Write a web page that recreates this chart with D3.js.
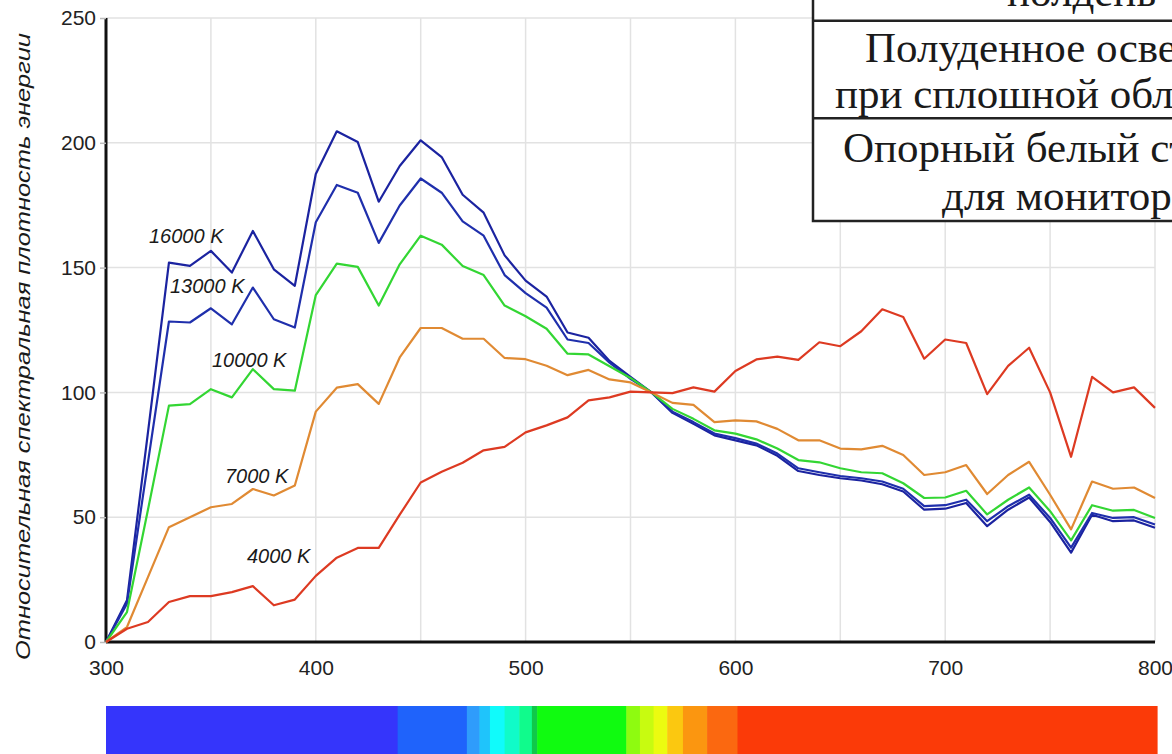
<!DOCTYPE html>
<html lang="ru">
<head>
<meta charset="UTF-8">
<title>Спектральная плотность энергии</title>
<script src="https://d3js.org/d3.v7.min.js"></script>
<style>
  body { margin: 0; background: #fff; }
  svg { display: block; }
  .tick-label { font-family: "Liberation Sans", Arial, sans-serif; font-size: 21px; fill: #222; }
  .curve-label { font-family: "Liberation Sans", Arial, sans-serif; font-size: 20px; font-style: italic; fill: #1a1a1a; }
  .box-text { font-family: "Liberation Serif", "Times New Roman", serif; font-size: 43px; fill: #1a1a1a; }
</style>
</head>
<body>
<svg id="chart" width="1172" height="754"></svg>
<script>
// wavelengths, nm
const wavelengths = [300, 310, 320, 330, 340, 350, 360, 370, 380, 390,
  400, 410, 420, 430, 440, 450, 460, 470, 480, 490,
  500, 510, 520, 530, 540, 550, 560, 570, 580, 590,
  600, 610, 620, 630, 640, 650, 660, 670, 680, 690,
  700, 710, 720, 730, 740, 750, 760, 770, 780, 790, 800];

// relative spectral power, one array per colour temperature
const k16000 = [0, 16.7, 84, 152, 150.7, 156.7, 148, 164.7, 149.3, 142.7,
  187.5, 204.6, 200.3, 176.4, 190.7, 201, 194.3, 179.2, 172, 154.9,
  144.8, 138.4, 124, 121.9, 112.6, 106.2, 100, 91.8, 87.4, 82.8,
  80.8, 78.8, 74.6, 68.5, 66.9, 65.6, 64.7, 63.2, 60.3, 53,
  53.4, 55.7, 46.4, 53, 57.9, 48.1, 35.8, 51, 48.4, 48.7, 45.8];
const k13000 = [0, 15.3, 72, 128.4, 128, 133.7, 127.3, 142, 129.3, 126,
  168.2, 183.1, 180, 159.9, 174.9, 185.7, 180, 168.5, 162.8, 147,
  139.8, 134, 121.2, 119.8, 111.9, 105.4, 100, 92.3, 88.1, 83.5,
  81.7, 79.5, 75.5, 69.6, 68, 66.5, 65.6, 64.3, 61.4, 54.4,
  54.8, 57, 48.4, 54.4, 59, 49.7, 37.8, 51.7, 49.7, 50, 47.1];
const k10000 = [0, 12, 53, 94.7, 95.3, 101.3, 98, 109.3, 101.3, 100.7,
  139, 151.6, 150.3, 134.8, 151.3, 162.8, 159.2, 150.6, 147, 134.8,
  130.5, 125.5, 115.5, 115.2, 110.5, 105.8, 100, 93.4, 89.4, 84.8,
  83.5, 81.2, 77.5, 72.9, 72, 69.6, 68, 67.6, 63.6, 57.7,
  57.9, 60.6, 51.1, 57, 61.9, 52.4, 40.7, 54.8, 52.6, 52.9, 49.7];
const k7000 = [0, 6, 26, 46, 50, 54, 55.3, 61.3, 58.7, 62.7,
  92.3, 101.9, 103.3, 95.4, 114, 125.8, 125.8, 121.5, 121.5, 113.8,
  113.3, 110.7, 106.9, 109, 105.2, 104, 100, 95.8, 95, 88.1,
  88.8, 88.4, 85.4, 80.8, 80.8, 77.5, 77.2, 78.6, 74.9, 66.9,
  68, 70.9, 59.3, 66.9, 72.2, 59, 45.1, 64.3, 61.4, 61.9, 57.7];
const k4000 = [0, 5.3, 8, 16, 18.4, 18.4, 20, 22.4, 14.7, 17,
  26.5, 33.8, 37.7, 37.7, 51, 63.9, 68.2, 71.8, 76.8, 78.2,
  84, 86.8, 90, 96.8, 98, 100.3, 100, 99.7, 102, 100.3,
  108.6, 113.2, 114.3, 113, 120.1, 118.5, 124.5, 133.3, 130.2, 113.5,
  121.2, 119.8, 99.3, 110.6, 117.9, 100, 74.2, 106.2, 100, 102, 93.8];

const seriesNames = ["16000 K", "13000 K", "10000 K", "7000 K", "4000 K"];
const seriesValues = [k16000, k13000, k10000, k7000, k4000];
const seriesColors = ["#1b23a0", "#1f2fac", "#33d633", "#e08a33", "#dd3a22"];
// where each curve label starts (nm) and its baseline (value)
const labelAt = [[320.5, 160], [330.5, 140], [350.5, 110], [356.7, 63.7], [367.2, 31.6]];

const xTicks = [300, 400, 500, 600, 700, 800];
const yTicks = [0, 50, 100, 150, 200, 250];
const xGrid = [350, 400, 450, 500, 550, 600, 650, 700, 750, 800];
const yGrid = [50, 100, 150, 200, 250];

// colour strip under the axis: band edges in nm and their colours
const bandEdges = [300, 439, 472, 478, 483, 490, 497, 503, 505.5, 548, 554.5, 561, 567.5, 575, 586.5, 601, 801];
const bandColors = ["#3535fb", "#1f63fb", "#2f9cfb", "#1fc4fb", "#10fbfb", "#10fbc8", "#10fb8c", "#10c84a",
  "#10fb10", "#8efb10", "#c8fb10", "#ecfb10", "#fbc810", "#fb9610", "#fb6810", "#fb3a08"];

const titleY = "Относительная спектральная плотность энергии";
const boxRows = [
  ["полдень"],
  ["Полуденное освещение", "при сплошной облачности"],
  ["Опорный белый стандарт", "для мониторов"]
];

const svg = d3.select("#chart");
const x = d3.scaleLinear().domain([300, 800]).range([106, 1155]);
const y = d3.scaleLinear().domain([0, 250]).range([642, 18]);

// grid
svg.append("g").selectAll("line").data(xGrid).join("line")
  .attr("x1", d => x(d)).attr("x2", d => x(d))
  .attr("y1", y(250)).attr("y2", y(0))
  .attr("stroke", "#e2e2e2").attr("stroke-width", 1.5);
svg.append("g").selectAll("line").data(yGrid).join("line")
  .attr("x1", x(300)).attr("x2", x(800))
  .attr("y1", d => y(d)).attr("y2", d => y(d))
  .attr("stroke", "#e2e2e2").attr("stroke-width", 1.5);

// axes
const yAxis = svg.append("g")
  .attr("transform", `translate(${x(300)},0)`)
  .call(d3.axisLeft(y).tickValues(yTicks).tickSize(6).tickPadding(4));
const xAxis = svg.append("g")
  .attr("transform", `translate(0,${y(0)})`)
  .call(d3.axisBottom(x).tickValues(xTicks).tickSize(0).tickPadding(18));
[yAxis, xAxis].forEach(a => {
  a.select(".domain").attr("stroke", "#111").attr("stroke-width", 3);
  a.selectAll(".tick line").attr("stroke", "#bbb").attr("stroke-width", 1.5);
  a.selectAll(".tick text").attr("class", "tick-label").attr("fill", null);
});
xAxis.select(".domain").attr("d", `M${x(300)},0H${x(800)}`);
yAxis.select(".domain").attr("d", `M0,${y(250)}V${y(0)}`);

// y title
svg.append("text")
  .attr("class", "curve-label")
  .attr("transform", `translate(30,${(33 + 660) / 2}) rotate(-90)`)
  .attr("text-anchor", "middle")
  .attr("font-size", 22)
  .attr("textLength", 627)
  .attr("lengthAdjust", "spacingAndGlyphs")
  .text(titleY);

// curves
const line = d3.line()
  .x((d, i) => x(wavelengths[i]))
  .y(d => y(d));
svg.append("g").selectAll("path").data(seriesValues).join("path")
  .attr("d", d => line(d))
  .attr("fill", "none")
  .attr("stroke", (d, i) => seriesColors[i])
  .attr("stroke-width", 2.2)
  .attr("stroke-linejoin", "round");

// curve labels
svg.append("g").selectAll("text").data(seriesNames).join("text")
  .attr("class", "curve-label")
  .attr("x", (d, i) => x(labelAt[i][0]))
  .attr("y", (d, i) => y(labelAt[i][1]))
  .text(d => d);

// spectrum strip
svg.append("g").selectAll("rect").data(bandColors).join("rect")
  .attr("x", (d, i) => x(bandEdges[i]))
  .attr("width", (d, i) => x(bandEdges[i + 1]) - x(bandEdges[i]) + 0.5)
  .attr("y", 706).attr("height", 48)
  .attr("fill", d => d);

// table box in the corner
const box = svg.append("g");
box.append("rect")
  .attr("x", 813).attr("y", -10).attr("width", 420).attr("height", 231)
  .attr("fill", "#fff").attr("stroke", "#222").attr("stroke-width", 2.5);
[20.7, 118.3].forEach(yy => {
  box.append("line").attr("x1", 813).attr("x2", 1180)
    .attr("y1", yy).attr("y2", yy)
    .attr("stroke", "#222").attr("stroke-width", 2.5);
});
const boxLines = [
  [boxRows[0][0], 1007, 6],
  [boxRows[1][0], 865, 62],
  [boxRows[1][1], 835, 108],
  [boxRows[2][0], 843, 162],
  [boxRows[2][1], 942, 210]
];
box.selectAll("text").data(boxLines).join("text")
  .attr("class", "box-text")
  .attr("x", d => d[1]).attr("y", d => d[2])
  .text(d => d[0]);
</script>
</body>
</html>
